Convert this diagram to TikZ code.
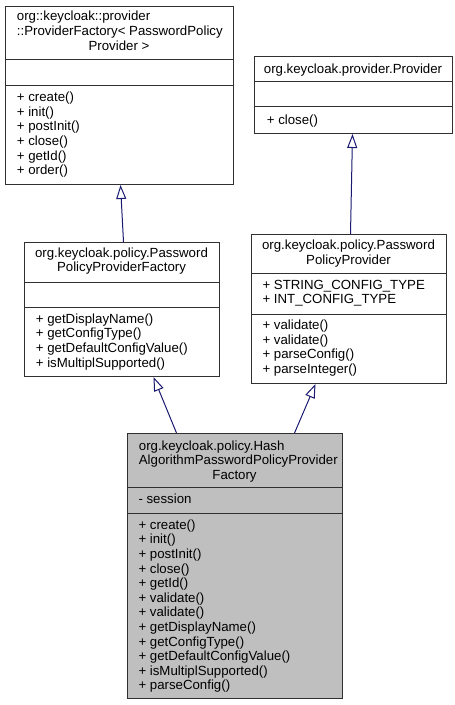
\documentclass[tikz,border=0pt]{standalone}
\usepackage{fontspec}
\setmainfont{Liberation Sans}
\usetikzlibrary{arrows.meta}
\definecolor{edgeblue}{HTML}{191970}
\definecolor{boxgray}{HTML}{BFBFBF}
\definecolor{boxline}{HTML}{303030}
\begin{document}
\begin{tikzpicture}[x=1bp,y=-1bp,
  umlbox/.style={draw=boxline, line width=1bp, fill=white, inner sep=0pt, anchor=north west},
  txt/.style={inner sep=0pt, anchor=base west, font=\fontsize{13.3}{14.6}\selectfont},
  ctxt/.style={inner sep=0pt, anchor=base, font=\fontsize{13.3}{14.6}\selectfont},
  divider/.style={draw=boxline, line width=1bp},
  inh/.style={draw=edgeblue, line width=1bp, -{Triangle[open,length=14bp,width=10bp]}}]
\useasboundingbox (0,0) rectangle (455,705);

% Box 1: ProviderFactory
\node[umlbox, minimum width=228bp, minimum height=178bp] (b1) at (5,6) {};
\draw[divider] (5,60) -- (233,60);
\draw[divider] (5,86) -- (233,86);
\node[txt] (b1t1) at (16.7,21) {org::keycloak::provider};
\node[txt] (b1t2) at (16.7,35.6) {::ProviderFactory< PasswordPolicy};
\node[ctxt] (b1t3) at (119,50.2) {Provider >};
\foreach \m [count=\i] in {create(),init(),postInit(),close(),getId(),order()}
  \node[txt] (b1m\i) at (16.7,{101.7+14.6*(\i-1)}) {+ \m};

% Box 2: Provider
\node[umlbox, minimum width=198bp, minimum height=77bp] (b2) at (254,56) {};
\draw[divider] (254,82) -- (452,82);
\draw[divider] (254,107) -- (452,107);
\node[ctxt] (b2t1) at (353,74) {org.keycloak.provider.Provider};
\node[txt] (b2m1) at (266.7,125) {+ close()};

% Box 3: PasswordPolicyProviderFactory
\node[umlbox, minimum width=195bp, minimum height=134bp] (b3) at (24,242) {};
\draw[divider] (24,282) -- (219,282);
\draw[divider] (24,307) -- (219,307);
\node[ctxt] (b3t1) at (121.5,257) {org.keycloak.policy.Password};
\node[ctxt] (b3t2) at (121.5,271.6) {PolicyProviderFactory};
\foreach \m [count=\i] in {getDisplayName(),getConfigType(),getDefaultConfigValue(),isMultiplSupported()}
  \node[txt] (b3m\i) at (35.7,{323.3+14.6*(\i-1)}) {+ \m};

% Box 4: PasswordPolicyProvider
\node[umlbox, minimum width=195bp, minimum height=149bp] (b4) at (251,234) {};
\draw[divider] (251,273) -- (446,273);
\draw[divider] (251,314) -- (446,314);
\node[ctxt] (b4t1) at (348.5,249.3) {org.keycloak.policy.Password};
\node[ctxt] (b4t2) at (348.5,264) {PolicyProvider};
\node[txt] (b4a1) at (262.3,289.3) {+ STRING\_CONFIG\_TYPE};
\node[txt] (b4a2) at (262.3,303.9) {+ INT\_CONFIG\_TYPE};
\foreach \m [count=\i] in {validate(),validate(),parseConfig(),parseInteger()}
  \node[txt] (b4m\i) at (262.3,{329.6+14.6*(\i-1)}) {+ \m};

% Box 5: HashAlgorithmPasswordPolicyProviderFactory
\node[umlbox, fill=boxgray, minimum width=215bp, minimum height=265bp] (b5) at (127,433) {};
\draw[divider] (127,487) -- (342,487);
\draw[divider] (127,513) -- (342,513);
\node[txt] (b5t1) at (138.7,450) {org.keycloak.policy.Hash};
\node[txt] (b5t2) at (138.7,464.6) {AlgorithmPasswordPolicyProvider};
\node[ctxt] (b5t3) at (234.5,479.2) {Factory};
\node[txt] (b5a1) at (138.3,503) {- session};
\foreach \m [count=\i] in {create(),init(),postInit(),close(),getId(),validate(),validate(),getDisplayName(),getConfigType(),getDefaultConfigValue(),isMultiplSupported(),parseConfig()}
  \node[txt] (b5m\i) at (138.3,{529.3+14.6*(\i-1)}) {+ \m};

% Inheritance arrows
\draw[inh] ([xshift=1.5bp]b3.north) -- ([xshift=1bp]b1.south);
\draw[inh] ([xshift=1.5bp]b4.north) -- ([xshift=-1bp]b2.south);
\draw[inh] ([xshift=-58.5bp]b5.north) -- ([xshift=31.5bp]b3.south);
\draw[inh] ([xshift=59.5bp]b5.north) -- ([xshift=-33.5bp]b4.south);
\end{tikzpicture}
\end{document}
